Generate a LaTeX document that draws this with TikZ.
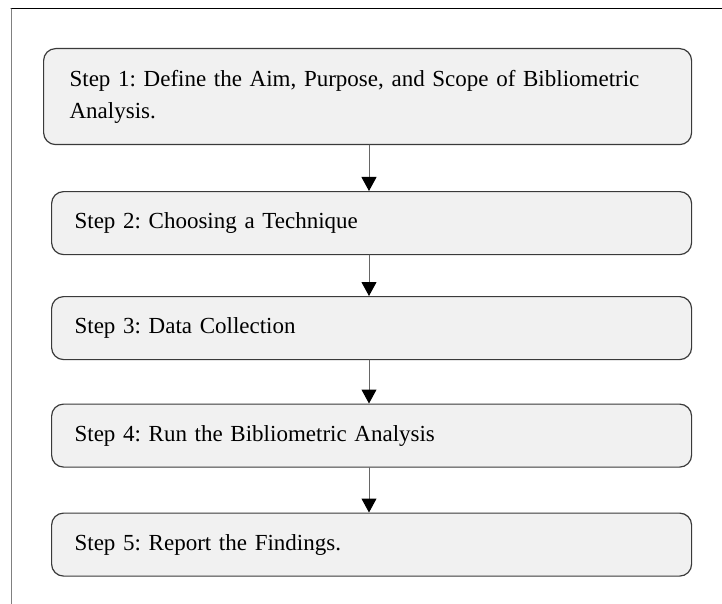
\documentclass[tikz,border=0pt]{standalone}
\usepackage{fontspec}
\setmainfont{Liberation Serif}
\usetikzlibrary{arrows.meta}
\definecolor{boxfill}{HTML}{F1F1F1}
\definecolor{boxline}{HTML}{3A3A3A}
\frenchspacing
\begin{document}
\begin{tikzpicture}[>={Triangle[width=15pt,length=14pt,color=black]},line join=round,line cap=round,font=\fontsize{23}{32}\selectfont,x=1pt,y=-1pt,
	stepbox/.style={draw=boxline,fill=boxfill,line width=1.2pt,rounded corners=12pt,anchor=north west,align=left,inner ysep=0pt,
		inner xsep=23pt,text width=594pt,minimum width=640pt,minimum height=63pt}]
				\useasboundingbox (0,0) rectangle (722,604);
				\def\mx{369}
				\path
				(11,9) coordinate (F_1)
				(722,9) coordinate (F_2)
				(11,604) coordinate (F_3)
				(\mx,0) coordinate (M)
				;
				\draw[line width=1pt] (F_1)--(F_2);
				\draw[line width=1pt,gray] (F_1)--(F_3);
				\node[stepbox,inner xsep=26pt,text width=596pt,minimum width=648pt,minimum height=96pt] (S_1) at (43,48)
				{Step 1: Define the Aim, Purpose, and Scope of Bibliometric\\Analysis.};
				\node[stepbox] (S_2) at (51,191) {Step 2: Choosing a Technique};
				\node[stepbox] (S_3) at (51,296) {Step 3: Data Collection};
				\node[stepbox] (S_4) at (51,403.5) {Step 4: Run the Bibliometric Analysis};
				\node[stepbox] (S_5) at (51,512.5) {Step 5: Report the Findings.};
				\foreach \a/\b in {S_1/S_2,S_2/S_3,S_3/S_4,S_4/S_5}
				\draw[->,line width=1pt,draw=gray!80!black] (\a.south -| M)--(\b.north -| M);
			\end{tikzpicture}
\end{document}
